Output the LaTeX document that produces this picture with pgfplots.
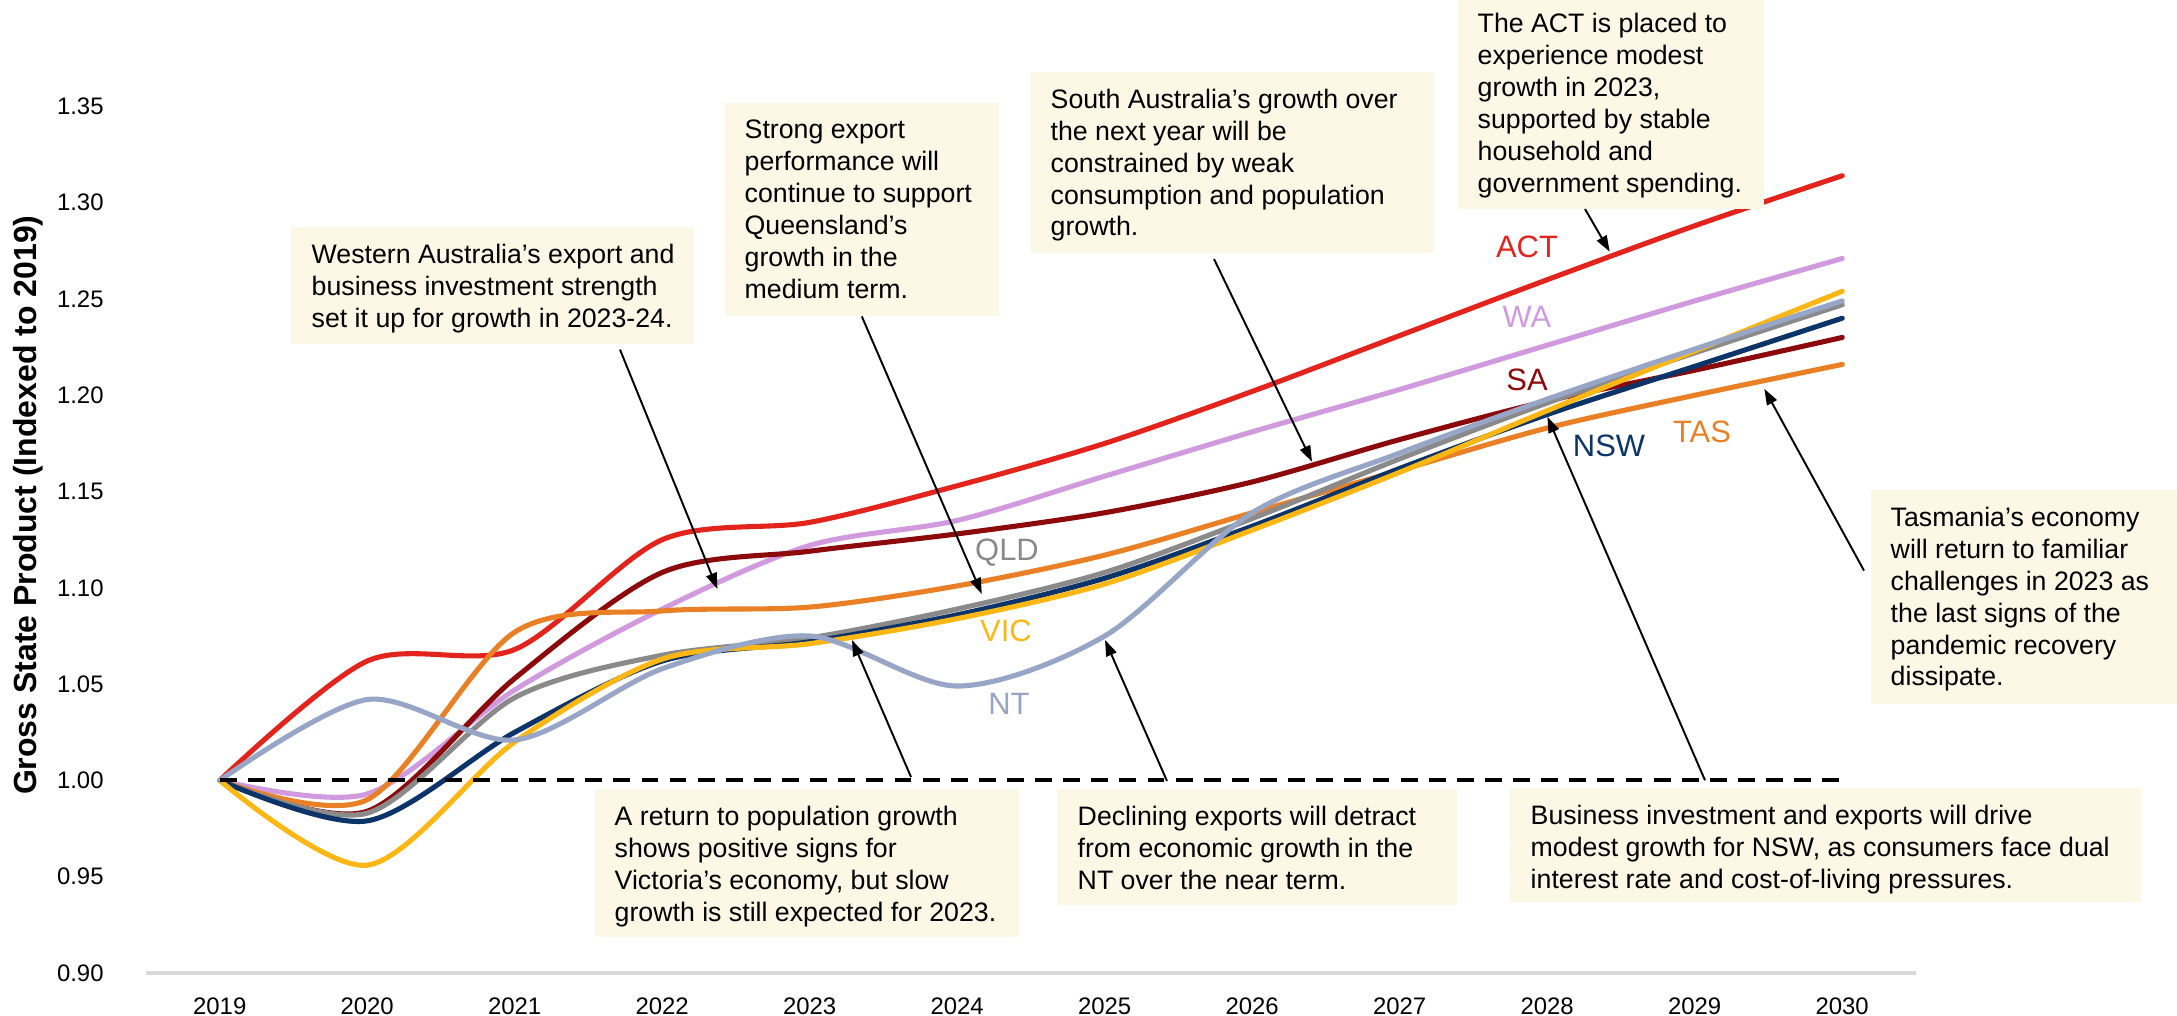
\documentclass[border=0pt]{standalone}
\usepackage{fontspec}
\setmainfont{Liberation Sans}
\usepackage{pgfplots}
\usepackage{pgfplotstable}
\pgfplotsset{compat=1.18}
\usetikzlibrary{arrows.meta}

\definecolor{cACT}{HTML}{E2241C}
\definecolor{cWA}{HTML}{D19ADF}
\definecolor{cSA}{HTML}{8C0A0C}
\definecolor{cNSW}{HTML}{0C3468}
\definecolor{cTAS}{HTML}{E98025}
\definecolor{cQLD}{HTML}{8A8A8A}
\definecolor{cVIC}{HTML}{FDB714}
\definecolor{cNT}{HTML}{97A6C7}
\definecolor{boxfill}{HTML}{FDF7E5}
\definecolor{axgray}{HTML}{D9D9D9}

\newcommand{\annfont}{\fontsize{7.6}{9.1}\selectfont}
\newcommand{\labfont}{\fontsize{8.8}{10}\selectfont}
\newcommand{\pxy}[2]{({(#1-146)/100},{(973-#2)/100})}

\pgfplotstableread{
year  ACT   WA    SA    TAS   QLD   NSW   VIC   NT
2019  1.000 1.000 1.000 1.000 1.000 1.000 1.000 1.000
2020  1.062 0.993 0.984 0.990 0.983 0.979 0.956 1.042
2021  1.068 1.047 1.053 1.077 1.043 1.025 1.020 1.021
2022  1.125 1.089 1.108 1.088 1.065 1.062 1.063 1.058
2023  1.134 1.122 1.119 1.090 1.074 1.072 1.071 1.075
2024  1.153 1.135 1.128 1.101 1.089 1.086 1.084 1.049
2025  1.175 1.158 1.139 1.117 1.108 1.105 1.102 1.075
2026  1.202 1.181 1.155 1.139 1.136 1.132 1.130 1.139
2027  1.231 1.203 1.177 1.161 1.167 1.162 1.160 1.170
2028  1.260 1.226 1.197 1.183 1.196 1.190 1.192 1.198
2029  1.288 1.249 1.213 1.200 1.222 1.215 1.223 1.224
2030  1.314 1.271 1.230 1.216 1.247 1.240 1.254 1.249
}\gsp

\pgfplotstableread{
year  base
2019  1.00
2030  1.00
}\baseline

\begin{document}
\begin{tikzpicture}
\begin{axis}[
  at={(0,0)}, anchor=south west,
  scale only axis, width=17.70cm, height=9.726cm,
  xmin=2018.5, xmax=2030.5, ymin=0.90, ymax=1.405,
  clip=false,
  axis lines*=left,
  x axis line style={draw=axgray, line width=1pt},
  y axis line style={draw=none},
  major tick length=0pt,
  xtick={2019,...,2030},
  ytick={0.90,0.95,1.00,1.05,1.10,1.15,1.20,1.25,1.30,1.35},
  /pgf/number format/assume math mode=true,
  xticklabel style={font=\fontsize{6.8}{8}\selectfont, yshift=-0.12cm, /pgf/number format/1000 sep={}},
  yticklabel style={font=\fontsize{6.8}{8}\selectfont, xshift=-0.30cm, /pgf/number format/.cd, fixed, fixed zerofill, precision=2},
  ylabel={Gross State Product (Indexed to 2019)},
  ylabel style={font=\bfseries\fontsize{9.1}{10}\selectfont, at={(axis description cs:-0.0667,0.481)}, anchor=center},
  every axis plot/.append style={line width=1.45pt, smooth, line cap=round, line join=round},
]
\addplot[cACT] table[x=year,y=ACT] {\gsp};
\addplot[cWA]  table[x=year,y=WA]  {\gsp};
\addplot[cSA]  table[x=year,y=SA]  {\gsp};
\addplot[cTAS] table[x=year,y=TAS] {\gsp};
\addplot[cQLD] table[x=year,y=QLD] {\gsp};
\addplot[cNSW] table[x=year,y=NSW] {\gsp};
\addplot[cVIC] table[x=year,y=VIC] {\gsp};
\addplot[cNT]  table[x=year,y=NT]  {\gsp};
\addplot[black, line width=1.1pt, dash pattern=on 4.8pt off 3.2pt, line cap=butt, sharp plot] table[x=year,y=base] {\baseline};
\end{axis}

% annotation boxes
\fill[boxfill] \pxy{291}{227} rectangle \pxy{694}{344};
\node[anchor=north west, align=left, inner sep=0pt, font=\annfont] at \pxy{311}{243}
 {Western Australia’s export and\\business investment strength\\set it up for growth in 2023-24.};

\fill[boxfill] \pxy{725}{103} rectangle \pxy{999}{316};
\node[anchor=north west, align=left, inner sep=0pt, font=\annfont] at \pxy{744}{119}
 {Strong export\\performance will\\continue to support\\Queensland’s\\growth in the\\medium term.};

\fill[boxfill] \pxy{1031}{72} rectangle \pxy{1433}{253};
\node[anchor=north west, align=left, inner sep=0pt, font=\annfont] at \pxy{1050}{88}
 {South Australia’s growth over\\the next year will be\\constrained by weak\\consumption and population\\growth.};

\fill[boxfill] \pxy{1458}{0} rectangle \pxy{1764}{209};
\node[anchor=north west, align=left, inner sep=0pt, font=\annfont] at \pxy{1477}{12.5}
 {The ACT is placed to\\experience modest\\growth in 2023,\\supported by stable\\household and\\government spending.};

\fill[boxfill] \pxy{1871}{490} rectangle \pxy{2177}{704};
\node[anchor=north west, align=left, inner sep=0pt, font=\annfont] at \pxy{1890}{506}
 {Tasmania’s economy\\will return to familiar\\challenges in 2023 as\\the last signs of the\\pandemic recovery\\dissipate.};

\fill[boxfill] \pxy{1510}{788} rectangle \pxy{2141}{902};
\node[anchor=north west, align=left, inner sep=0pt, font=\annfont] at \pxy{1530}{804}
 {Business investment and exports will drive\\modest growth for NSW, as consumers face dual\\interest rate and cost-of-living pressures.};

\fill[boxfill] \pxy{595}{789} rectangle \pxy{1019}{937};
\node[anchor=north west, align=left, inner sep=0pt, font=\annfont] at \pxy{614}{805}
 {A return to population growth\\shows positive signs for\\Victoria’s economy, but slow\\growth is still expected for 2023.};

\fill[boxfill] \pxy{1057}{789} rectangle \pxy{1457}{905};
\node[anchor=north west, align=left, inner sep=0pt, font=\annfont] at \pxy{1077}{805}
 {Declining exports will detract\\from economic growth in the\\NT over the near term.};

% arrows
\begin{scope}[line width=0.55pt, -{Triangle[length=0.16cm, width=0.11cm]}]
\draw \pxy{620}{349.6} -- \pxy{717.4}{589};
\draw \pxy{861.8}{316.4} -- \pxy{981.8}{594};
\draw \pxy{1214}{259} -- \pxy{1312}{461.7};
\draw \pxy{1585}{209} -- \pxy{1609.7}{251.7};
\draw \pxy{1864}{570.6} -- \pxy{1764.3}{388.8};
\draw \pxy{1705}{780.3} -- \pxy{1547.4}{416.7};
\draw \pxy{911}{777} -- \pxy{852}{640};
\draw \pxy{1167}{781} -- \pxy{1105}{640};
\end{scope}

% series labels
\node[font=\labfont, text=cACT] at \pxy{1527}{247} {ACT};
\node[font=\labfont, text=cWA]  at \pxy{1527}{317} {WA};
\node[font=\labfont, text=cSA]  at \pxy{1527}{380} {SA};
\node[font=\labfont, text=cNSW] at \pxy{1609}{446} {NSW};
\node[font=\labfont, text=cTAS] at \pxy{1702}{432} {TAS};
\node[font=\labfont, text=cQLD] at \pxy{1007}{553} {QLD};
\node[font=\labfont, text=cVIC] at \pxy{1006}{631} {VIC};
\node[font=\labfont, text=cNT]  at \pxy{1009}{704} {NT};

\pgfresetboundingbox
\useasboundingbox \pxy{0}{0} rectangle \pxy{2177}{1015};
\end{tikzpicture}
\end{document}
